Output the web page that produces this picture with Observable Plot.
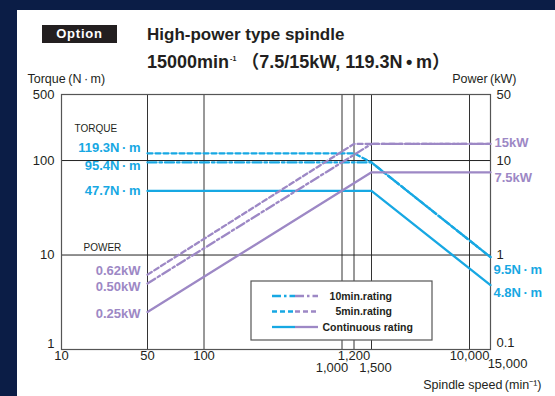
<!DOCTYPE html>
<html>
<head>
<meta charset="utf-8">
<script src="https://cdn.jsdelivr.net/npm/d3@7"></script>
<script src="https://cdn.jsdelivr.net/npm/@observablehq/plot@0.6"></script>
<style>
  html, body { margin: 0; padding: 0; }
  body { width: 555px; height: 396px; overflow: hidden; background: #0b1d46; position: relative;
         font-family: "Liberation Sans", Arial, "Noto Sans CJK JP", sans-serif; color: #231f20; }
  #panel { position: absolute; left: 17px; top: 10px; right: 0; bottom: 0; background: #fff; }
  #chart { position: absolute; left: 0; top: 0; }
  .opt { position: absolute; left: 42px; top: 25px; width: 75px; height: 18px; background: #231f20; color: #fff;
         font-weight: bold; font-size: 13px; line-height: 18px; text-align: center; letter-spacing: 0.8px; }
  .title { position: absolute; left: 147px; font-weight: bold; font-size: 17px; line-height: 17px; white-space: nowrap; }
  .t1 { top: 26px; }
  .t2 { top: 50px; font-size: 18px; line-height: 18px; }
  .title sup { font-size: 7px; vertical-align: 7px; margin-left: 1px; }
  .par { font-family: "Noto Sans CJK JP", sans-serif; font-weight: bold; }
</style>
</head>
<body>
<div id="panel"></div>
<div class="opt">Option</div>
<div class="title t1">High-power type spindle</div>
<div class="title t2">15000min<sup>-1</sup> <span class="par">（</span>7.5/15kW, 119.3N&#8201;•&#8201;m<span class="par">）</span></div>
<div id="chart"></div>
<script>
// ---------- data ----------
// speed axis (min-1): grid positions of the original chart
const speedBreaks = [10, 50, 100, 1000, 1200, 1500, 10000, 15000];
const speedGrid = [50, 100, 1000, 1200, 1500, 10000];
const speedTicksUpper = [10, 50, 100, 1200, 10000];
const speedTicksLower = [1000, 1500];
const speedTicksLast = [15000];

// torque ticks (N·m, left) and power ticks (kW, right)
const torqueTicks = [500, 100, 10];
const torqueTicksBottom = [1];
const powerTicks = [50, 10, 1];
const powerTicksBottom = [0.1];

// torque curves (N·m)
const torque10minSpeed = [50, 1500, 15000];
const torque10minValue = [95.4, 95.4, 9.5];
const torque5minSpeed = [50, 1200, 1500, 15000];
const torque5minValue = [119.3, 119.3, 95.4, 9.5];
const torqueContSpeed = [50, 1500, 15000];
const torqueContValue = [47.7, 47.7, 4.8];

// power curves (kW)
const power10minSpeed = [50, 1500, 15000];
const power10minValue = [0.50, 15, 15];
const power5minSpeed = [50, 1200, 15000];
const power5minValue = [0.62, 15, 15];
const powerContSpeed = [50, 1500, 15000];
const powerContValue = [0.25, 7.5, 7.5];

// value labels
const torqueLabelsLeft = [119.3, 95.4, 47.7];
const powerLabelsLeft = [0.62, 0.50, 0.25];
const powerLabelsRight = [15, 7.5];
const torqueLabelsRight = [9.5, 4.8];

const legendNames = ["10min.rating", "5min.rating", "Continuous rating"];

// ---------- chart ----------
const CYAN = "#17a8e3", PURPLE = "#9d88c5", INK = "#231f20", GRID = "#333";
const DASHDOT = "9,3,2.5,3", DASH = "5,3";
const FONT = '"Liberation Sans", Arial, "Noto Sans CJK JP", sans-serif';
const KW = 10; // right axis = left axis / 10
const NM = "N\u2009·\u2009m";

const rows = (s, v, k = 1) => s.map((speed, i) => ({speed, value: v[i] * k}));
const fmtComma = d3.format(",");

// label nudges (style only)
const torqueLeftDy = [-5, 3, 0];
const powerLeftDy = [-3.5, 3, 1.5];
const torqueRightDy = [13, 8];
const powerRightDy = [-1, 5];
const lowerTickDx = [-10, 4];

const labelMarks = [];
torqueLabelsLeft.forEach((v, i) => labelMarks.push(
  Plot.text([v], {x: () => 50, y: d => d, text: d => `${d}${NM}`, textAnchor: "end", dx: -7, dy: torqueLeftDy[i],
    fill: CYAN, fontWeight: "bold", fontSize: 13})));
powerLabelsLeft.forEach((v, i) => labelMarks.push(
  Plot.text([v], {x: () => 50, y: d => d * KW, text: d => `${d3.format(".2f")(d)}kW`, textAnchor: "end", dx: -7, dy: powerLeftDy[i],
    fill: PURPLE, fontWeight: "bold", fontSize: 13})));
torqueLabelsRight.forEach((v, i) => labelMarks.push(
  Plot.text([v], {x: () => 15000, y: d => d, text: d => `${d}${NM}`, textAnchor: "start", dx: 3, dy: torqueRightDy[i],
    fill: CYAN, fontWeight: "bold", fontSize: 13})));
powerLabelsRight.forEach((v, i) => labelMarks.push(
  Plot.text([v], {x: () => 15000, y: d => d * KW, text: d => `${d}kW`, textAnchor: "start", dx: 4, dy: powerRightDy[i],
    fill: PURPLE, fontWeight: "bold", fontSize: 13})));
speedTicksLower.forEach((v, i) => labelMarks.push(
  Plot.text([v], {x: d => d, text: d => fmtComma(d), frameAnchor: "bottom", dx: lowerTickDx[i], dy: 22, fill: INK, fontSize: 13})));

const chart = Plot.plot({
  width: 555,
  height: 396,
  marginLeft: 61,
  marginRight: 65,
  marginTop: 94,
  marginBottom: 47,
  style: {background: "transparent", fontFamily: FONT, overflow: "visible"},
  x: {type: "log", domain: speedBreaks, range: [61, 147, 203.5, 341.5, 353.5, 371, 469, 490], axis: null},
  y: {type: "log", domain: [1, 500], axis: null},
  marks: [
    Plot.ruleX(speedGrid, {stroke: GRID, strokeWidth: 1}),
    Plot.ruleY([10, 100], {stroke: "#222", strokeWidth: 1}),
    Plot.frame({stroke: "#555", strokeWidth: 1.2}),

    // torque
    Plot.line(rows(torque10minSpeed, torque10minValue), {x: "speed", y: "value", stroke: CYAN, strokeWidth: 2.3, strokeDasharray: DASHDOT}),
    Plot.line(rows(torque5minSpeed, torque5minValue), {x: "speed", y: "value", stroke: CYAN, strokeWidth: 2.3, strokeDasharray: DASH}),
    Plot.line(rows(torqueContSpeed, torqueContValue), {x: "speed", y: "value", stroke: CYAN, strokeWidth: 2.3}),
    // power
    Plot.line(rows(power10minSpeed, power10minValue, KW), {x: "speed", y: "value", stroke: PURPLE, strokeWidth: 2.3, strokeDasharray: DASHDOT}),
    Plot.line(rows(power5minSpeed, power5minValue, KW), {x: "speed", y: "value", stroke: PURPLE, strokeWidth: 2.3, strokeDasharray: DASH}),
    Plot.line(rows(powerContSpeed, powerContValue, KW), {x: "speed", y: "value", stroke: PURPLE, strokeWidth: 2.3}),

    ...labelMarks,

    // section labels
    Plot.text(["TORQUE"], {frameAnchor: "top-left", textAnchor: "start", dx: 13, dy: 30, fill: INK, fontSize: 10}),
    Plot.text(["POWER"], {y: () => 10, frameAnchor: "left", textAnchor: "start", dx: 22, dy: -7, fill: INK, fontSize: 10}),

    // y tick labels
    Plot.text(torqueTicks, {y: d => d, text: d => String(d), frameAnchor: "left", textAnchor: "end", dx: -7, dy: 0, fill: INK, fontSize: 13}),
    Plot.text(torqueTicksBottom, {y: d => d, text: d => String(d), frameAnchor: "left", textAnchor: "end", dx: -7, dy: -6, fill: INK, fontSize: 13}),
    Plot.text(powerTicks, {y: d => d * KW, text: d => String(d), frameAnchor: "right", textAnchor: "start", dx: 6, dy: 0, fill: INK, fontSize: 13}),
    Plot.text(powerTicksBottom, {y: d => d * KW, text: d => String(d), frameAnchor: "right", textAnchor: "start", dx: 6, dy: -7, fill: INK, fontSize: 13}),

    // x tick labels
    Plot.text(speedTicksUpper, {x: d => d, text: d => fmtComma(d), frameAnchor: "bottom", dy: 10, fill: INK, fontSize: 13}),
    Plot.text(speedTicksLast, {x: d => d, text: d => fmtComma(d), frameAnchor: "bottom", dx: 17, dy: 18, fill: INK, fontSize: 13}),

    // axis titles
    Plot.text([`Torque\u2009(${NM})`], {frameAnchor: "top-left", textAnchor: "start", dx: -34, dy: -20, fill: INK, fontSize: 12.5}),
    Plot.text(["Power\u2009(kW)"], {frameAnchor: "top-right", textAnchor: "end", dx: 26, dy: -20, fill: INK, fontSize: 12.5}),
    Plot.text(["Spindle speed\u2009(min⁻¹)"], {frameAnchor: "bottom-right", textAnchor: "end", dx: 51, dy: 39, fill: INK, fontSize: 12.5})
  ]
});

document.getElementById("chart").append(chart);

// legend
const svg = d3.select(chart);
const lg = svg.append("g").attr("font-family", FONT);
lg.append("rect").attr("x", 251).attr("y", 281).attr("width", 181).attr("height", 59)
  .attr("fill", "#fff").attr("stroke", "#555").attr("stroke-width", 1.2);
const dashes = [DASHDOT, DASH, null];
legendNames.forEach((name, i) => {
  const y = 296 + i * 15.5;
  lg.append("line").attr("x1", 272).attr("x2", 295).attr("y1", y).attr("y2", y)
    .attr("stroke", CYAN).attr("stroke-width", 2.3).attr("stroke-dasharray", dashes[i]);
  lg.append("line").attr("x1", 295).attr("x2", 318).attr("y1", y).attr("y2", y)
    .attr("stroke", PURPLE).attr("stroke-width", 2.3).attr("stroke-dasharray", dashes[i]);
  lg.append("text").attr("x", i < 2 ? 392 : 322.5).attr("y", y).attr("dy", "0.35em")
    .attr("text-anchor", i < 2 ? "end" : "start")
    .attr("font-size", 10.5).attr("font-weight", "bold").attr("fill", INK).text(name);
});
</script>
</body>
</html>
